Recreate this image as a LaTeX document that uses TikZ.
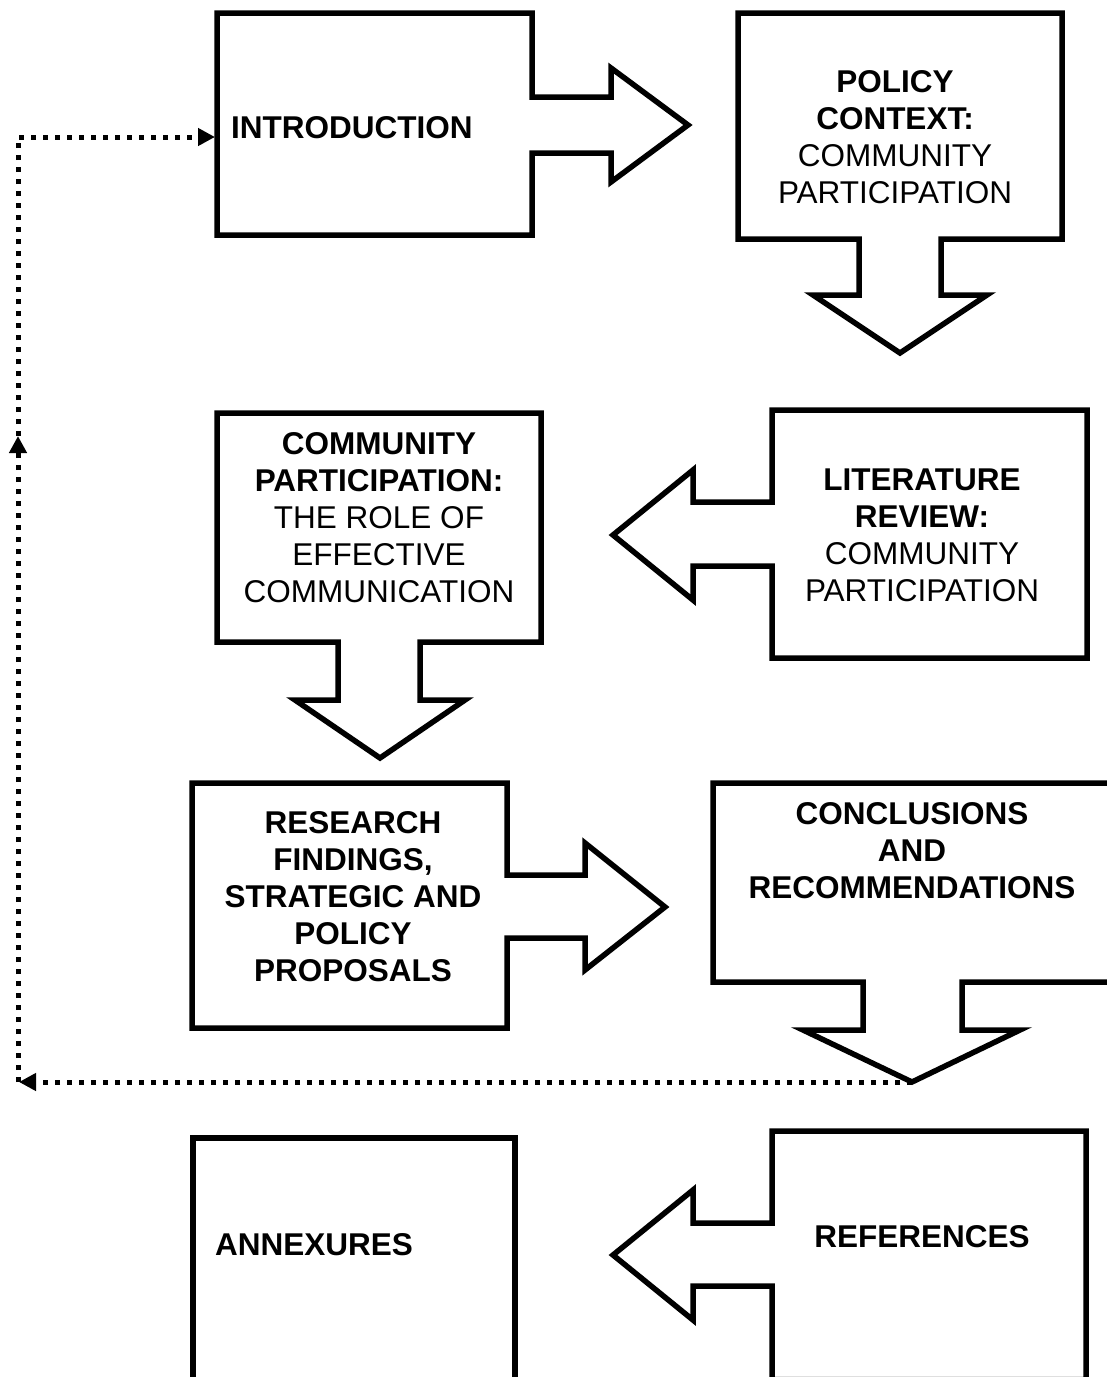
\documentclass[tikz,border=0pt]{standalone}
\usepackage{fontspec}
\setmainfont{Liberation Sans}
\usetikzlibrary{arrows.meta}
\tikzset{
  outline/.style={draw=black, line width=5.5pt, line join=miter, fill=white},
  lbl/.style={inner sep=0pt, align=center, font=\fontsize{31.5}{37}\selectfont},
  dots/.style={line width=5pt, dash pattern=on 5pt off 7pt},
  tipend/.style={-{Triangle[length=17pt,width=17pt]}}
}
\begin{document}
\begin{tikzpicture}[x=1pt,y=-1pt]
\useasboundingbox (0,0) rectangle (1107,1377);
% 1 Introduction (right arrow)
\draw[outline] (217,13) -- (532,13) -- (532,97) -- (611,97) -- (611,68) -- (688,125) -- (611,182) -- (611,153) -- (532,153) -- (532,235) -- (217,235) -- cycle;
% 2 Policy context (down arrow)
\draw[outline] (738,13) -- (1062,13) -- (1062,239) -- (941,239) -- (941,295) -- (987,295) -- (900,353) -- (813,295) -- (859,295) -- (859,239) -- (738,239) -- cycle;
% 3 Literature review (left arrow)
\draw[outline] (772,410) -- (1087,410) -- (1087,658) -- (772,658) -- (772,566) -- (693,566) -- (693,600) -- (613,535) -- (693,470) -- (693,502) -- (772,502) -- cycle;
% 4 Community participation (down arrow)
\draw[outline] (217,413) -- (541,413) -- (541,642) -- (420,642) -- (420,700) -- (465,700) -- (380,758) -- (295,700) -- (338,700) -- (338,642) -- (217,642) -- cycle;
% 5 Research findings (right arrow)
\draw[outline] (192,783) -- (507,783) -- (507,875) -- (585,875) -- (585,843) -- (665,907) -- (585,970) -- (585,938) -- (507,938) -- (507,1028) -- (192,1028) -- cycle;
% 6 Conclusions (down arrow)
\draw[outline] (713,783) -- (1120,783) -- (1120,982) -- (962,982) -- (962,1030) -- (1020,1030) -- (912,1082) -- (803,1030) -- (863,1030) -- (863,982) -- (713,982) -- cycle;
% 7 References (left arrow)
\draw[outline] (772,1131) -- (1086,1131) -- (1086,1379.5) -- (772,1379.5) -- (772,1286) -- (693,1286) -- (693,1320) -- (613,1255) -- (693,1190) -- (693,1223) -- (772,1223) -- cycle;
% 8 Annexures
\draw[outline] (193,1138) -- (515,1138) -- (515,1379.5) -- (193,1379.5) -- cycle;

% texts
\node[lbl, anchor=west] (intro) at (231,128) {\bfseries INTRODUCTION};
\node[lbl] (policy) at (895,137.5) {\textbf{POLICY}\\\textbf{CONTEXT:}\\COMMUNITY\\PARTICIPATION};
\node[lbl] (commpart) at (379,517.5) {\textbf{COMMUNITY}\\\textbf{PARTICIPATION:}\\THE ROLE OF\\EFFECTIVE\\COMMUNICATION};
\node[lbl] (litrev) at (922,535) {\textbf{LITERATURE}\\\textbf{REVIEW:}\\COMMUNITY\\PARTICIPATION};
\node[lbl] (research) at (353,896.5) {\bfseries RESEARCH\\\bfseries FINDINGS,\\\bfseries STRATEGIC AND\\\bfseries POLICY\\\bfseries PROPOSALS};
\node[lbl] (concl) at (912,851) {\bfseries CONCLUSIONS\\\bfseries AND\\\bfseries RECOMMENDATIONS};
\node[lbl] (refs) at (922,1237) {\bfseries REFERENCES};
\node[lbl, anchor=west] (annex) at (215,1245) {\bfseries ANNEXURES};

% dotted feedback connector
\coordinate (ctip) at (912,1082);
\coordinate (bl) at (19,1082);
\coordinate (ml) at (18,436);
\coordinate (tl) at (18,137);
\coordinate (intW) at (215,137);
\draw[dots, tipend] (ctip) -- (bl);
\draw[dots, tipend] (18,1082) -- (ml);
\draw[dots, tipend] (ml) -- (tl) -- (intW);
\end{tikzpicture}
\end{document}
